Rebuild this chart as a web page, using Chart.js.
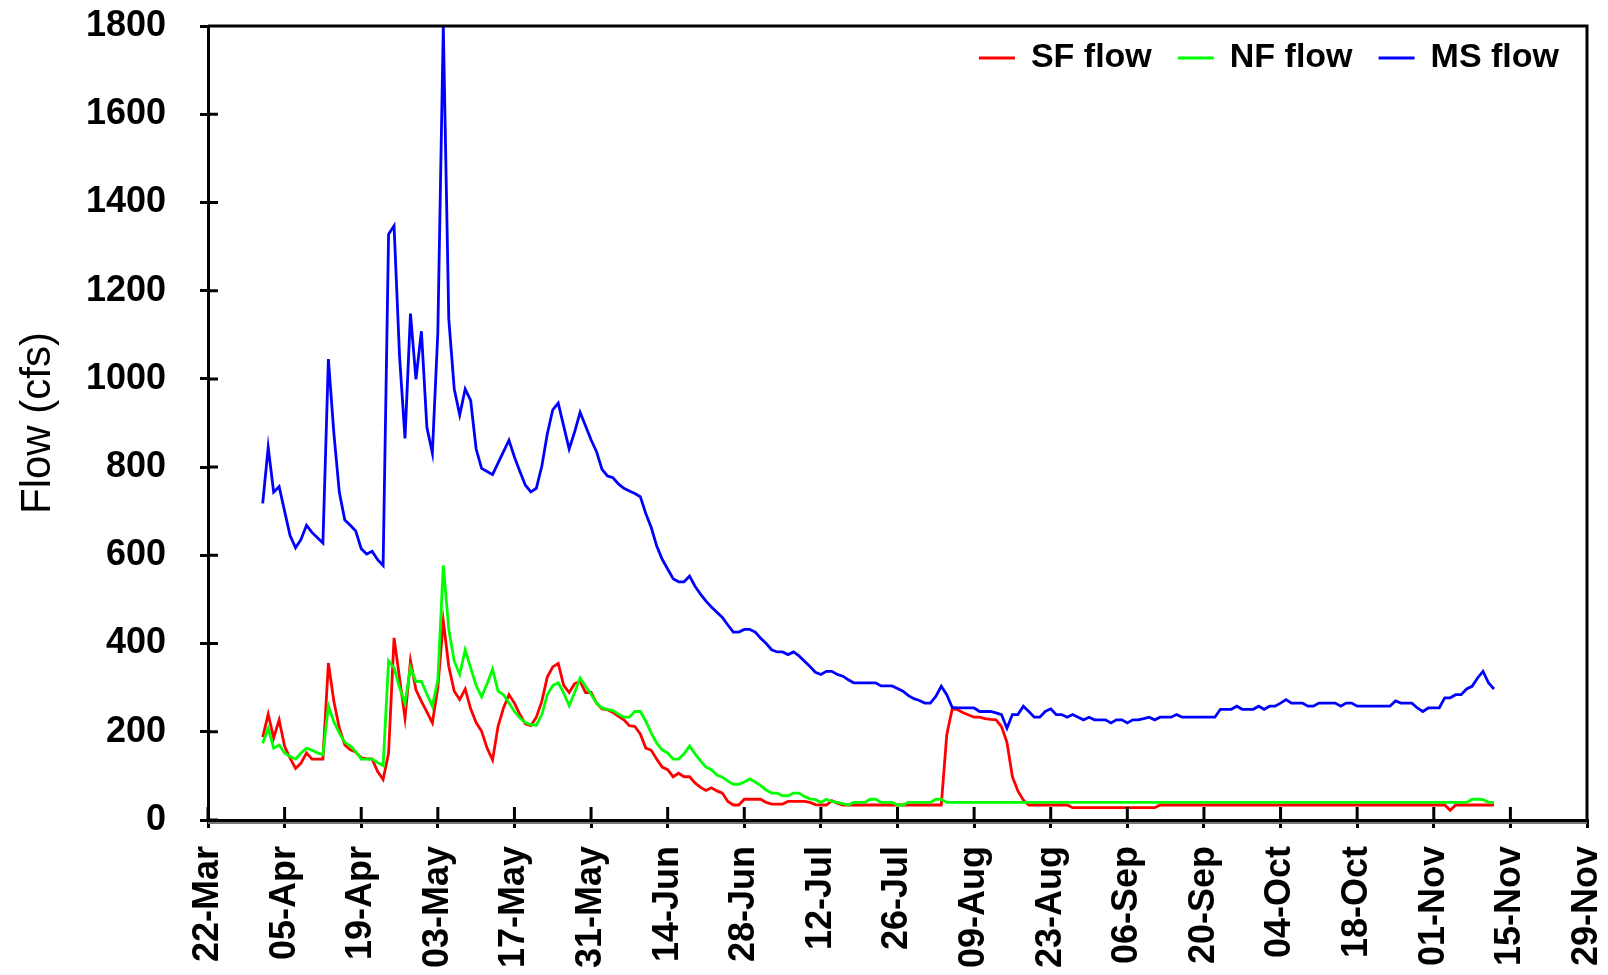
<html><head><meta charset="UTF-8">
<title>Flow (cfs)</title>
<style>
    body, html {
        margin: 0;
        padding: 0;
        background-color: #fff;
    }
    .chart-box {
        width: 1608px;
        height: 975px;
    }
</style>
<script src="https://cdn.jsdelivr.net/npm/chart.js"></script>
</head>
<body>
    <div class="chart-box">
        <canvas id="flowChart"></canvas>
    </div>

    <script>
        // days are counted from 22-Mar, first reading is 01-Apr
        const firstDay = 10;
        const tickLabels = ['22-Mar', '05-Apr', '19-Apr', '03-May', '17-May', '31-May', '14-Jun', '28-Jun',
            '12-Jul', '26-Jul', '09-Aug', '23-Aug', '06-Sep', '20-Sep', '04-Oct', '18-Oct', '01-Nov', '15-Nov', '29-Nov'];

        const sfFlow = [
            188, 240, 186, 227, 167, 140, 117, 129, 152, 138,
            138, 138, 356, 269, 208, 170, 159, 154, 141, 139,
            138, 110, 92, 152, 413, 322, 231, 361, 295, 269,
            245, 220, 300, 451, 348, 292, 273, 297, 252, 221,
            201, 163, 136, 212, 254, 284, 265, 239, 218, 214,
            233, 269, 324, 347, 355, 305, 289, 309, 314, 289,
            289, 265, 252, 250, 244, 235, 227, 214, 212, 195,
            163, 158, 138, 120, 114, 98, 106, 98, 98, 84,
            74, 67, 73, 66, 61, 42, 34, 34, 47, 47,
            47, 47, 40, 36, 36, 36, 42, 42, 42, 42,
            40, 35, 34, 34, 44, 38, 34, 34, 34, 34,
            34, 34, 34, 34, 34, 34, 34, 34, 34, 34,
            34, 34, 34, 34, 34, 193, 252, 250, 243, 238,
            233, 233, 230, 228, 227, 212, 176, 98, 66, 45,
            34, 34, 34, 34, 34, 34, 34, 34, 28, 28,
            28, 28, 28, 28, 28, 28, 28, 28, 28, 28,
            28, 28, 28, 28, 34, 34, 34, 34, 34, 34,
            34, 34, 34, 34, 34, 34, 34, 34, 34, 34,
            34, 34, 34, 34, 34, 34, 34, 34, 34, 34,
            34, 34, 34, 34, 34, 34, 34, 34, 34, 34,
            34, 34, 34, 34, 34, 34, 34, 34, 34, 34,
            34, 34, 34, 34, 34, 34, 34, 22, 34, 34,
            34, 34, 34, 34, 34, 34
        ];

        const nfFlow = [
            174, 208, 163, 170, 152, 144, 138, 152, 163, 158,
            152, 148, 259, 223, 197, 176, 168, 155, 138, 138,
            138, 130, 123, 361, 345, 300, 264, 346, 314, 314,
            285, 258, 318, 577, 432, 360, 330, 386, 345, 305,
            279, 309, 342, 292, 284, 265, 246, 231, 221, 216,
            215, 239, 284, 305, 311, 288, 259, 289, 322, 303,
            285, 265, 254, 251, 248, 240, 233, 233, 246, 246,
            224, 197, 174, 159, 152, 138, 138, 150, 168, 150,
            134, 120, 114, 102, 97, 88, 81, 81, 86, 93,
            86, 78, 68, 61, 61, 55, 55, 61, 61, 53,
            48, 46, 40, 47, 42, 40, 37, 34, 40, 40,
            40, 47, 47, 40, 40, 40, 34, 34, 40, 40,
            40, 40, 40, 47, 47, 40, 40, 40, 40, 40,
            40, 40, 40, 40, 40, 40, 40, 40, 40, 40,
            40, 40, 40, 40, 40, 40, 40, 40, 40, 40,
            40, 40, 40, 40, 40, 40, 40, 40, 40, 40,
            40, 40, 40, 40, 40, 40, 40, 40, 40, 40,
            40, 40, 40, 40, 40, 40, 40, 40, 40, 40,
            40, 40, 40, 40, 40, 40, 40, 40, 40, 40,
            40, 40, 40, 40, 40, 40, 40, 40, 40, 40,
            40, 40, 40, 40, 40, 40, 40, 40, 40, 40,
            40, 40, 40, 40, 40, 40, 40, 40, 40, 40,
            40, 47, 47, 46, 40, 40
        ];

        const msFlow = [
            718, 845, 743, 756, 700, 645, 617, 636, 668, 652,
            640, 628, 1045, 877, 743, 680, 668, 655, 615, 603,
            609, 590, 577, 1328, 1347, 1052, 865, 1148, 999, 1108,
            890, 832, 1105, 1800, 1136, 977, 918, 977, 951, 841,
            797, 790, 783, 809, 835, 861, 823, 790, 759, 744,
            752, 802, 875, 930, 945, 893, 841, 880, 924, 893,
            862, 835, 795, 780, 776, 762, 752, 746, 740, 733,
            695, 663, 621, 591, 569, 547, 540, 540, 553, 530,
            512, 496, 483, 471, 459, 442, 426, 426, 432, 432,
            426, 412, 400, 386, 381, 381, 375, 381, 372, 360,
            348, 335, 330, 337, 337, 330, 326, 318, 311, 311,
            311, 311, 311, 304, 304, 304, 298, 292, 282, 275,
            271, 265, 265, 280, 303, 284, 255, 254, 254, 254,
            254, 246, 246, 246, 243, 239, 208, 239, 239, 258,
            246, 233, 233, 246, 252, 239, 239, 233, 239, 233,
            227, 233, 227, 227, 227, 220, 227, 227, 220, 227,
            227, 230, 233, 227, 233, 233, 233, 239, 233, 233,
            233, 233, 233, 233, 233, 251, 251, 251, 258, 251,
            251, 251, 258, 251, 258, 258, 265, 273, 265, 265,
            265, 258, 258, 265, 265, 265, 265, 258, 265, 265,
            258, 258, 258, 258, 258, 258, 258, 270, 265, 265,
            265, 254, 246, 254, 254, 254, 277, 277, 284, 284,
            297, 303, 322, 337, 311, 297
        ];

        const fontFamily = 'Arial, "Liberation Sans", sans-serif';

        function toPoints(values) {
            return values.map((v, i) => ({ x: firstDay + i, y: v }));
        }

        // box on top/right, tick marks inside the plot, legend in the corner
        const framePlugin = {
            id: 'frame',
            afterDraw(chart) {
                const ctx = chart.ctx;
                const area = chart.chartArea;
                const xs = chart.scales.x;
                const ys = chart.scales.y;
                ctx.save();
                ctx.strokeStyle = '#000';
                ctx.lineWidth = 3;
                ctx.beginPath();
                ctx.moveTo(area.left, area.top);
                ctx.lineTo(area.right, area.top);
                ctx.lineTo(area.right, area.bottom);
                xs.ticks.forEach(t => {
                    const px = xs.getPixelForValue(t.value);
                    ctx.moveTo(px, area.bottom);
                    ctx.lineTo(px, area.bottom - 13);
                });
                ys.ticks.forEach(t => {
                    const py = ys.getPixelForValue(t.value);
                    ctx.moveTo(area.left, py);
                    ctx.lineTo(area.left + 10, py);
                });
                ctx.stroke();

                // the double rule under the plot
                ctx.strokeStyle = '#777';
                ctx.lineWidth = 2;
                ctx.beginPath();
                ctx.moveTo(area.left, area.bottom + 3);
                ctx.lineTo(area.right, area.bottom + 3);
                ctx.stroke();

                ctx.font = 'bold 34px ' + fontFamily;
                ctx.textBaseline = 'middle';
                ctx.textAlign = 'left';
                const ly = 58;
                let x = area.right - 28;
                const sets = chart.data.datasets;
                for (let i = sets.length - 1; i >= 0; i--) {
                    const w = ctx.measureText(sets[i].label).width;
                    ctx.fillStyle = '#000';
                    ctx.fillText(sets[i].label, x - w, ly);
                    ctx.strokeStyle = sets[i].borderColor;
                    ctx.lineWidth = 3;
                    ctx.beginPath();
                    ctx.moveTo(x - w - 52, ly);
                    ctx.lineTo(x - w - 16, ly);
                    ctx.stroke();
                    x = x - w - 78;
                }
                ctx.restore();
            }
        };

        const ctx = document.getElementById('flowChart').getContext('2d');
        new Chart(ctx, {
            type: 'line',
            data: {
                datasets: [{
                    label: 'SF flow',
                    data: toPoints(sfFlow),
                    borderColor: '#ff0000',
                    order: 3
                }, {
                    label: 'NF flow',
                    data: toPoints(nfFlow),
                    borderColor: '#00ff00',
                    order: 2
                }, {
                    label: 'MS flow',
                    data: toPoints(msFlow),
                    borderColor: '#0000ff',
                    order: 1
                }]
            },
            options: {
                responsive: true,
                maintainAspectRatio: false,
                animation: false,
                layout: {
                    padding: { top: 26, right: 21, left: 0, bottom: 0 }
                },
                elements: {
                    line: { borderWidth: 2.8, tension: 0, fill: false },
                    point: { radius: 0 }
                },
                plugins: {
                    legend: { display: false },
                    tooltip: { enabled: false }
                },
                scales: {
                    x: {
                        type: 'linear',
                        min: 0,
                        max: 252,
                        afterFit: s => {
                            s.height = 155;
                            s.paddingLeft = 0;
                            s.paddingRight = 0;
                        },
                        border: { color: '#000', width: 3 },
                        grid: { drawOnChartArea: false, tickLength: 8, color: '#000', lineWidth: 3 },
                        ticks: {
                            stepSize: 14,
                            autoSkip: false,
                            maxRotation: 90,
                            minRotation: 90,
                            padding: 18,
                            color: '#000',
                            font: { family: fontFamily, size: 36, weight: 'bold' },
                            callback: v => tickLabels[v / 14]
                        }
                    },
                    y: {
                        min: 0,
                        max: 1800,
                        afterFit: s => {
                            s.width = 208;
                            s.paddingTop = 0;
                            s.paddingBottom = 0;
                        },
                        border: { color: '#000', width: 3 },
                        grid: { drawOnChartArea: false, tickLength: 8, color: '#000', lineWidth: 3 },
                        ticks: {
                            stepSize: 200,
                            padding: 34,
                            color: '#000',
                            font: { family: fontFamily, size: 36, weight: 'bold' },
                            callback: v => String(v)
                        },
                        title: {
                            display: true,
                            text: 'Flow (cfs)',
                            color: '#000',
                            font: { family: fontFamily, size: 42 },
                            padding: { top: 13, bottom: 0 }
                        }
                    }
                }
            },
            plugins: [framePlugin]
        });
    </script>
</body>
</html>
